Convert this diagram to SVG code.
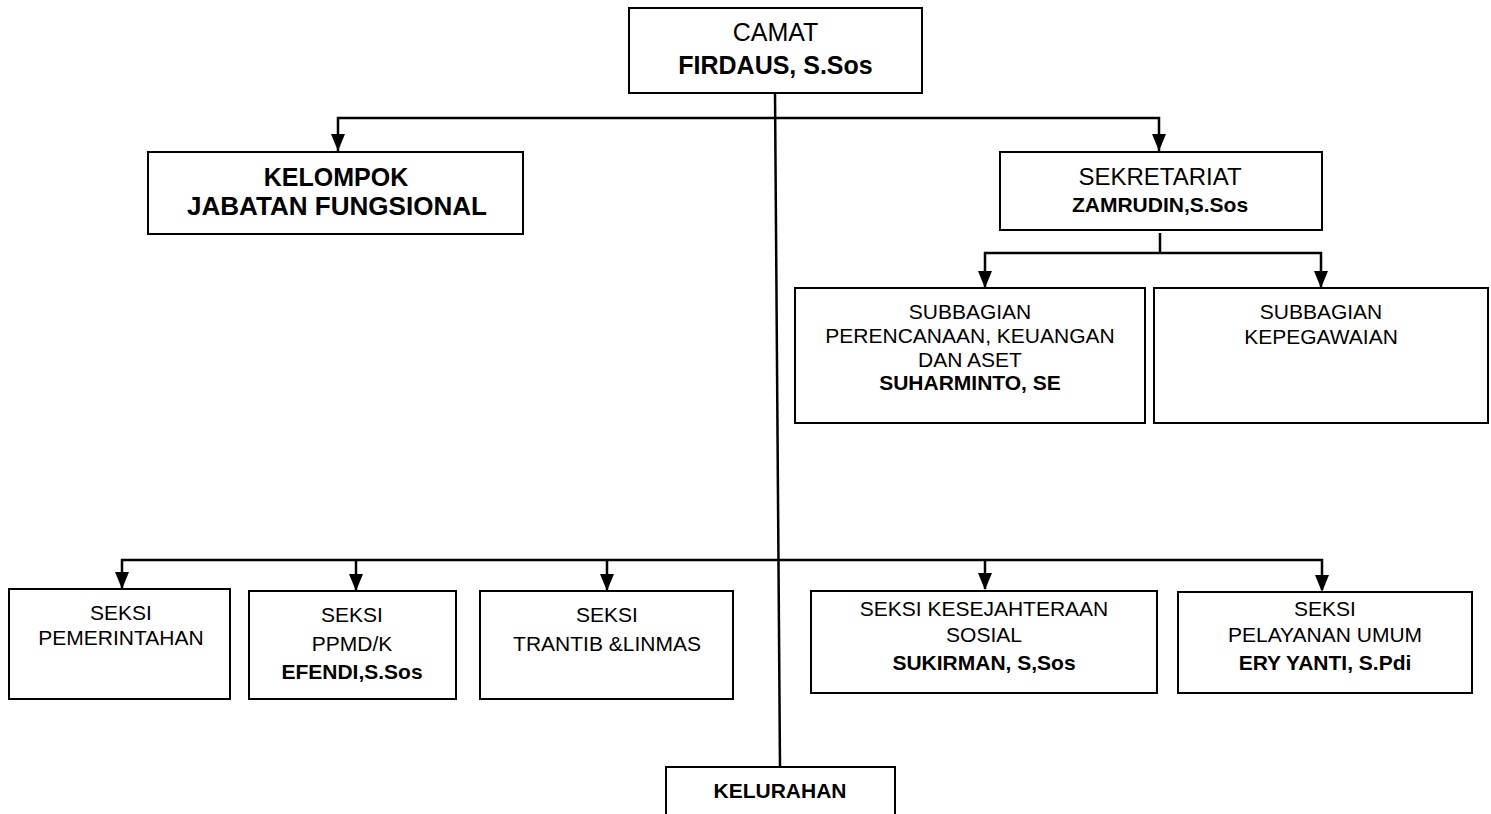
<svg xmlns="http://www.w3.org/2000/svg" width="1491" height="814" viewBox="0 0 1491 814">
<style>
.box{fill:#fff;stroke:#000;stroke-width:2}
.ln{fill:none;stroke:#000;stroke-width:2.5}
.ah{fill:#000}
text{font-family:"Liberation Sans",Arial,sans-serif;text-anchor:middle;fill:#000}
.b{font-weight:bold}
.s20{font-size:21px}
</style>
<rect width="1491" height="814" fill="#fff"/>
<g id="connectors">
<line class="ln" x1="775" y1="93" x2="780" y2="767"/>
<polyline class="ln" points="338,151 338,118 1159,118 1159,151"/>
<path class="ah" d="M331,134 L345,134 L338,151 Z"/>
<path class="ah" d="M1152,134 L1166,134 L1159,151 Z"/>
<line class="ln" x1="1160" y1="233" x2="1160" y2="253"/>
<polyline class="ln" points="985,287 985,253 1321,253 1321,287"/>
<path class="ah" d="M978,271 L992,271 L985,288 Z"/>
<path class="ah" d="M1314,271 L1328,271 L1321,288 Z"/>
<polyline class="ln" points="122,588 122,560 1322,560 1322,590"/>
<line class="ln" x1="356" y1="560" x2="356" y2="590"/>
<line class="ln" x1="607" y1="560" x2="607" y2="590"/>
<line class="ln" x1="985" y1="560" x2="985" y2="589"/>
<path class="ah" d="M115,572 L129,572 L122,589 Z"/>
<path class="ah" d="M349,574 L363,574 L356,591 Z"/>
<path class="ah" d="M600,574 L614,574 L607,591 Z"/>
<path class="ah" d="M978,573 L992,573 L985,590 Z"/>
<path class="ah" d="M1315,575 L1329,575 L1322,592 Z"/>
</g>
<g id="camat">
<rect class="box" x="629" y="8" width="293" height="85"/>
<text x="775.5" y="41" style="font-size:25px">CAMAT</text>
<text x="775.5" y="74" class="b" style="font-size:25px">FIRDAUS, S.Sos</text>
</g>
<g id="kelompok">
<rect class="box" x="148" y="152" width="375" height="82"/>
<text x="336" y="186" class="b" style="font-size:25px">KELOMPOK</text>
<text x="337" y="215" class="b" style="font-size:25px" textLength="300" lengthAdjust="spacingAndGlyphs">JABATAN FUNGSIONAL</text>
</g>
<g id="sekretariat">
<rect class="box" x="1000" y="152" width="322" height="78"/>
<text x="1160" y="185" style="font-size:24px">SEKRETARIAT</text>
<text x="1160" y="212" class="b" style="font-size:21px">ZAMRUDIN,S.Sos</text>
</g>
<g id="subbagian-perencanaan">
<rect class="box" x="795" y="288" width="350" height="135"/>
<text x="970" y="319" class="s20">SUBBAGIAN</text>
<text x="970" y="343" class="s20">PERENCANAAN, KEUANGAN</text>
<text x="970" y="367" class="s20">DAN ASET</text>
<text x="970" y="390" class="s20 b">SUHARMINTO, SE</text>
</g>
<g id="subbagian-kepegawaian">
<rect class="box" x="1154" y="288" width="334" height="135"/>
<text x="1321" y="319" class="s20">SUBBAGIAN</text>
<text x="1321" y="344" class="s20">KEPEGAWAIAN</text>
</g>
<g id="seksi-pemerintahan">
<rect class="box" x="9" y="589" width="221" height="110"/>
<text x="121" y="620" class="s20">SEKSI</text>
<text x="121" y="645" class="s20">PEMERINTAHAN</text>
</g>
<g id="seksi-ppmd">
<rect class="box" x="249" y="591" width="207" height="108"/>
<text x="352" y="622" class="s20">SEKSI</text>
<text x="352" y="651" class="s20">PPMD/K</text>
<text x="352" y="679" class="s20 b">EFENDI,S.Sos</text>
</g>
<g id="seksi-trantib">
<rect class="box" x="480" y="591" width="253" height="108"/>
<text x="607" y="622" class="s20">SEKSI</text>
<text x="607" y="651" class="s20">TRANTIB &amp;LINMAS</text>
</g>
<g id="seksi-kesejahteraan">
<rect class="box" x="811" y="591" width="346" height="102"/>
<text x="984" y="616" class="s20">SEKSI KESEJAHTERAAN</text>
<text x="984" y="642" class="s20">SOSIAL</text>
<text x="984" y="670" class="s20 b">SUKIRMAN, S,Sos</text>
</g>
<g id="seksi-pelayanan">
<rect class="box" x="1178" y="592" width="294" height="101"/>
<text x="1325" y="616" class="s20">SEKSI</text>
<text x="1325" y="642" class="s20">PELAYANAN UMUM</text>
<text x="1325" y="670" class="s20 b">ERY YANTI, S.Pdi</text>
</g>
<g id="kelurahan">
<rect class="box" x="666" y="767" width="229" height="60"/>
<text x="780" y="798" class="b s20">KELURAHAN</text>
</g>
</svg>
